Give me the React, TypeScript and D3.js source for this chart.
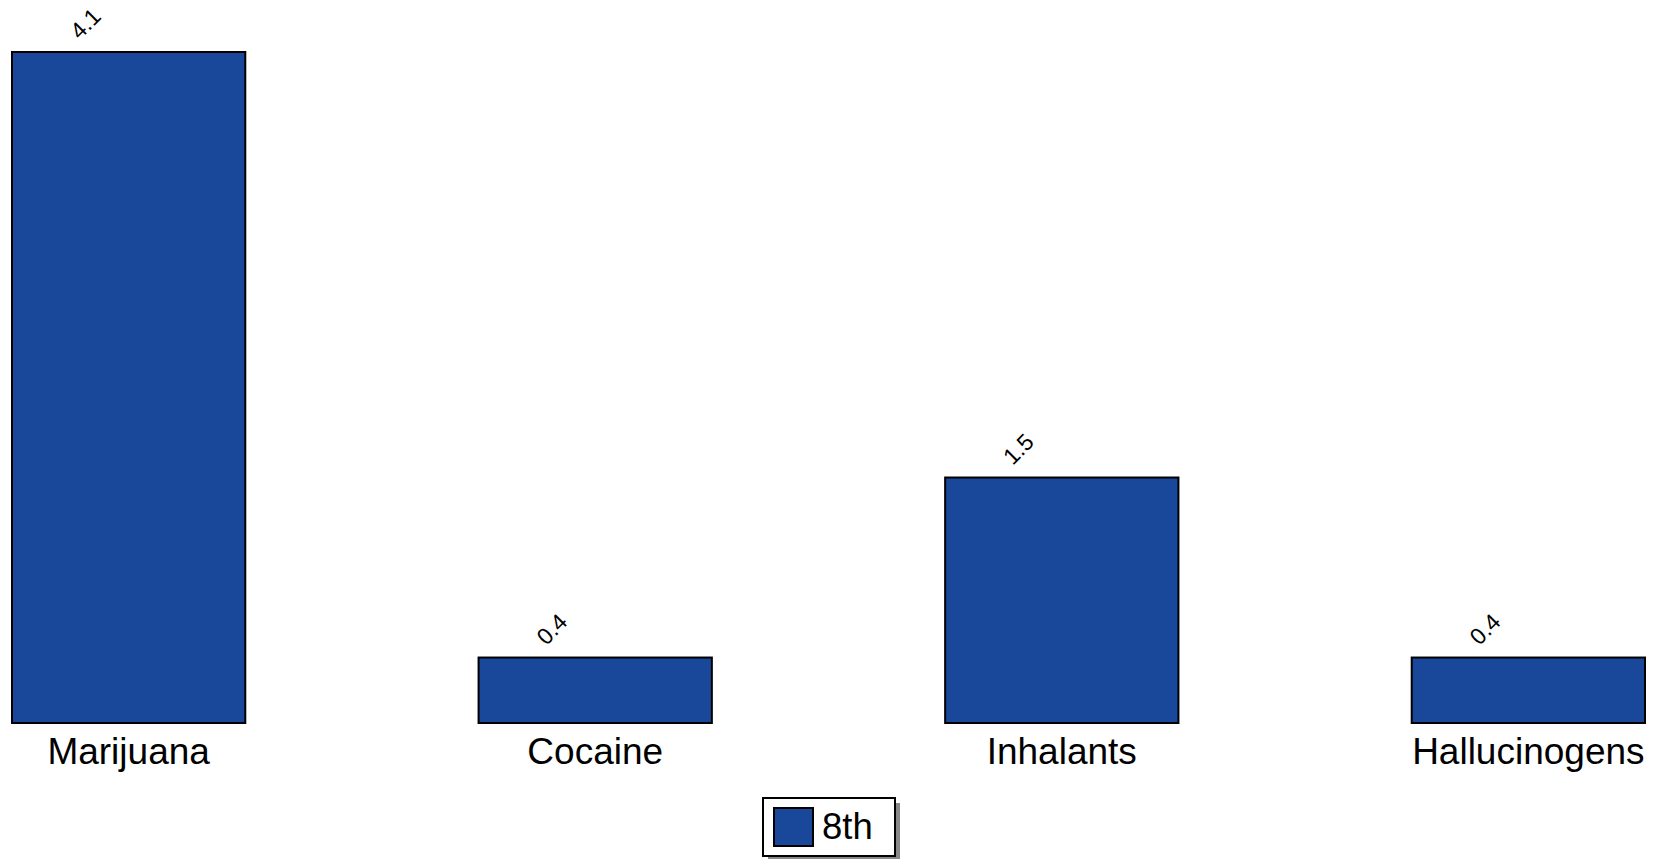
import React from "react";
import * as d3 from "d3";

const categories = ["Marijuana", "Cocaine", "Inhalants", "Hallucinogens"];
const values8th = [4.1, 0.4, 1.5, 0.4];
const seriesName = "8th";

const W = 1656;
const H = 859;
const FILL = "#19479a";
const FONT = "'Liberation Sans', Arial, Helvetica, sans-serif";

export default function App() {
  const x = d3.scaleBand<string>().domain(categories).range([12, 1645]).paddingInner(0.5).paddingOuter(0);
  const y = d3.scaleLinear().domain([0, 4.1]).range([723, 52]);
  const bw = x.bandwidth();

  return (
    <svg width={W} height={H} style={{ position: "absolute", left: 0, top: 0, display: "block" }} fontFamily={FONT}>
      <rect x={0} y={0} width={W} height={H} fill="#fff" />
      {categories.map((c, i) => {
        const x0 = x(c)!;
        const v = values8th[i];
        const yt = y(v);
        const cx = x0 + bw / 2;
        const lx = cx - 42;
        const ly = yt - 27;
        return (
          <g key={c}>
            <rect x={x0} y={yt} width={bw} height={y(0) - yt} fill={FILL} stroke="#000" strokeWidth={2} />
            <text
              x={lx}
              y={ly}
              textAnchor="middle"
              dominantBaseline="middle"
              fontSize={23}
              fill="#000"
              transform={`rotate(-45 ${lx} ${ly})`}
            >
              {v.toFixed(1)}
            </text>
            <text x={cx} y={764} textAnchor="middle" fontSize={37} fill="#000">
              {c}
            </text>
          </g>
        );
      })}
      <g>
        <rect x={768} y={803} width={132} height={58} fill="#888" />
        <rect x={763} y={798} width={132} height={58} fill="#fff" stroke="#000" strokeWidth={2} />
        <rect x={774} y={808} width={39} height={38} fill={FILL} stroke="#000" strokeWidth={2} />
        <text x={822} y={839} fontSize={36.5} fill="#000">
          {seriesName}
        </text>
      </g>
    </svg>
  );
}
